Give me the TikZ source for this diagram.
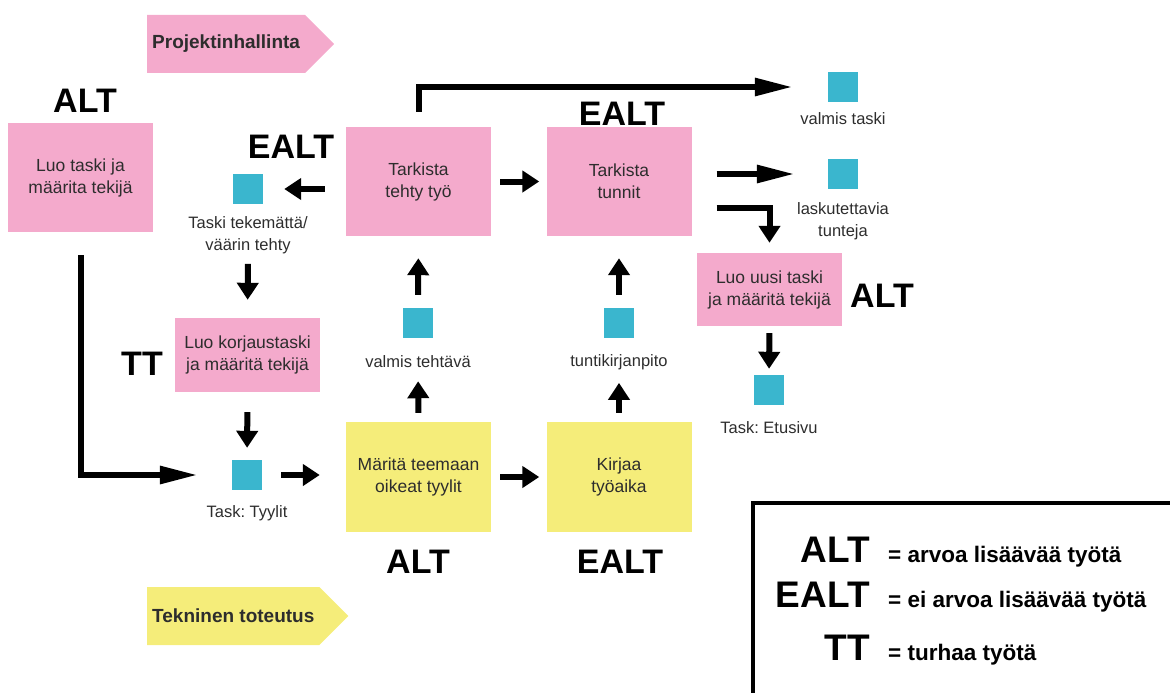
\documentclass[tikz,border=0pt]{standalone}
\usepackage{fontspec}
\setmainfont{Liberation Sans}
\usepackage{tikz}
\usetikzlibrary{arrows.meta,shapes.symbols}
\frenchspacing
\definecolor{notepink}{RGB}{244,170,204}
\definecolor{noteyellow}{RGB}{245,237,122}
\definecolor{taskteal}{RGB}{58,182,206}
\definecolor{textgray}{RGB}{45,45,45}
\tikzset{
  box/.style = {align=center, inner sep=0pt, text centered,
    font=\fontsize{17.5}{22}\selectfont, text=textgray},
  pinkbox/.style = {box, fill=notepink, minimum width=145pt},% lappu, pinkki
  yellowbox/.style = {box, fill=noteyellow, minimum width=145pt,
    minimum height=110pt},% lappu, keltainen
  task/.style = {rectangle, fill=taskteal, minimum size=30pt, inner sep=0pt},% taski
  tasklabel/.style = {align=center, inner sep=0pt, text=textgray,
    font=\fontsize{16.5}{22}\selectfont},
  tag/.style = {inner sep=0pt, font=\fontsize{34}{36}\selectfont\bfseries},
  legtag/.style = {inner sep=0pt, font=\fontsize{37}{40}\selectfont\bfseries},
  legtext/.style = {inner sep=0pt, font=\fontsize{22.5}{24}\selectfont\bfseries},
  banner/.style = {signal, signal to=east, signal pointer angle=90,
    minimum height=58pt, inner xsep=5pt, inner ysep=0pt, anchor=west,
    font=\fontsize{19}{20}\selectfont\bfseries, text=textgray},
  arw/.style = {line width=6pt, -{Triangle[length=17pt 0,width=21pt 0]}},
  longarw/.style = {line width=6pt, -{Triangle[length=38pt 0,width=17pt 0]}}
}
\begin{document}
\begin{tikzpicture}[x=1pt, y=-1pt]
\useasboundingbox (0,0) rectangle (1170,693);
\node [banner, fill=notepink] (pm) at (147,44) {Projektinhallinta};
\node [banner, fill=noteyellow] (tech) at (147,616) {Tekninen toteutus};

\node [pinkbox, minimum height=109pt] (luotaski) at (80.5,177.5) {Luo taski ja\\ määrita tekijä};
\node [pinkbox, minimum height=109pt] (tyo) at (418.5,181.5) {Tarkista\\ tehty työ};
\node [pinkbox, minimum height=109pt] (tunnit) at (619,181.5) {Tarkista\\ tunnit};
\node [pinkbox, minimum height=73pt] (uusi) at (769.5,289.5) {Luo uusi taski\\ ja määritä tekijä};
\node [pinkbox, minimum height=74pt] (korjaus) at (247.5,355) {Luo korjaustaski\\ ja määritä tekijä};
\node [yellowbox] (maarita) at (418.5,477) {Märitä teemaan\\ oikeat tyylit};
\node [yellowbox] (kirjaa) at (619,477) {Kirjaa\\ työaika};

\node [task] (vaarin) at (248,189) {};
\node [tasklabel] (vaarinlbl) at (248,235) {Taski tekemättä/\\ väärin tehty};
\node [task] (valmis) at (843,87) {};
\node [tasklabel] (valmislbl) at (843,119) {valmis taski};
\node [task] (laskut) at (843,174) {};
\node [tasklabel] (laskutlbl) at (843,221) {laskutettavia\\ tunteja};
\node [task] (etusivu) at (769,390) {};
\node [tasklabel] (etusivulbl) at (769,428) {Task: Etusivu};
\node [task] (tyylit) at (247,475) {};
\node [tasklabel] (tyylitlbl) at (247,513) {Task: Tyylit};
\node [task] (vteh) at (418,323) {};
\node [tasklabel] (vtehlbl) at (418,362) {valmis tehtävä};
\node [task] (tunti) at (619,323) {};
\node [tasklabel] (tuntilbl) at (619,362) {tuntikirjanpito};

\node [tag, anchor=base] (t1) at (85,112) {ALT};
\node [tag, anchor=base] (t2) at (291,158) {EALT};
\node [tag, anchor=base] (t3) at (622,125) {EALT};
\node [tag, anchor=base] (t4) at (882,307) {ALT};
\node [tag, anchor=base] (t5) at (142,375) {TT};
\node [tag, anchor=base] (t6) at (418,573) {ALT};
\node [tag, anchor=base] (t7) at (620,573) {EALT};

\draw [arw, shorten <=21pt, shorten >=21pt] (tyo.west |- vaarin) -- (vaarin.east);
\draw [arw, shorten <=9pt, shorten >=7pt] (tyo.east) -- (tunnit.west);
\draw [longarw, shorten >=35pt] ([yshift=15pt]tyo.north) |- (valmis.west);
\draw [longarw, shorten <=25pt, shorten >=33pt] (tunnit.east |- laskut) -- (laskut.west);
\draw [arw, shorten <=25pt, shorten >=10pt] ([yshift=-26pt]tunnit.east) -| (uusi.north);
\draw [arw, shorten <=7pt, shorten >=6pt] (uusi.south) -- (etusivu.north);
\draw [longarw, shorten <=23pt, shorten >=34pt] (luotaski.south) |- (tyylit.west);
\draw [arw, shorten <=10pt, shorten >=18pt] (vaarinlbl.south) -- (korjaus.north);
\draw [arw, shorten <=20pt, shorten >=12pt] (korjaus.south) -- (tyylit.north);
\draw [arw, shorten <=19pt, shorten >=26pt] (tyylit.east) -- (maarita.west |- tyylit);
\draw [arw, shorten <=9pt, shorten >=7pt] (maarita.east) -- (kirjaa.west);
\draw [arw, shorten <=9pt, shorten >=13pt] (maarita.north) -- (vtehlbl.south);
\draw [arw, shorten <=13pt, shorten >=22pt] (vteh.north) -- (tyo.south);
\draw [arw, shorten <=9pt, shorten >=13pt] (kirjaa.north) -- (tuntilbl.south);
\draw [arw, shorten <=13pt, shorten >=22pt] (tunti.north) -- (tunnit.south);

% selite
\coordinate (legtop) at (1170,503);
\coordinate (legcorner) at (753,503);
\coordinate (legbottom) at (753,693);
\draw [line width=4pt] (legtop) -- (legcorner) -- (legbottom);
\node [legtag, anchor=base east] (lalt) at (870,562) {ALT};
\node [legtext, anchor=base west] (laltt) at (888,562) {= arvoa lisäävää työtä};
\node [legtag, anchor=base east] (lealt) at (870,607) {EALT};
\node [legtext, anchor=base west] (lealtt) at (888,607) {= ei arvoa lisäävää työtä};
\node [legtag, anchor=base east] (ltt) at (870,660) {TT};
\node [legtext, anchor=base west] (lttt) at (888,660) {= turhaa työtä};
\end{tikzpicture}
\end{document}
